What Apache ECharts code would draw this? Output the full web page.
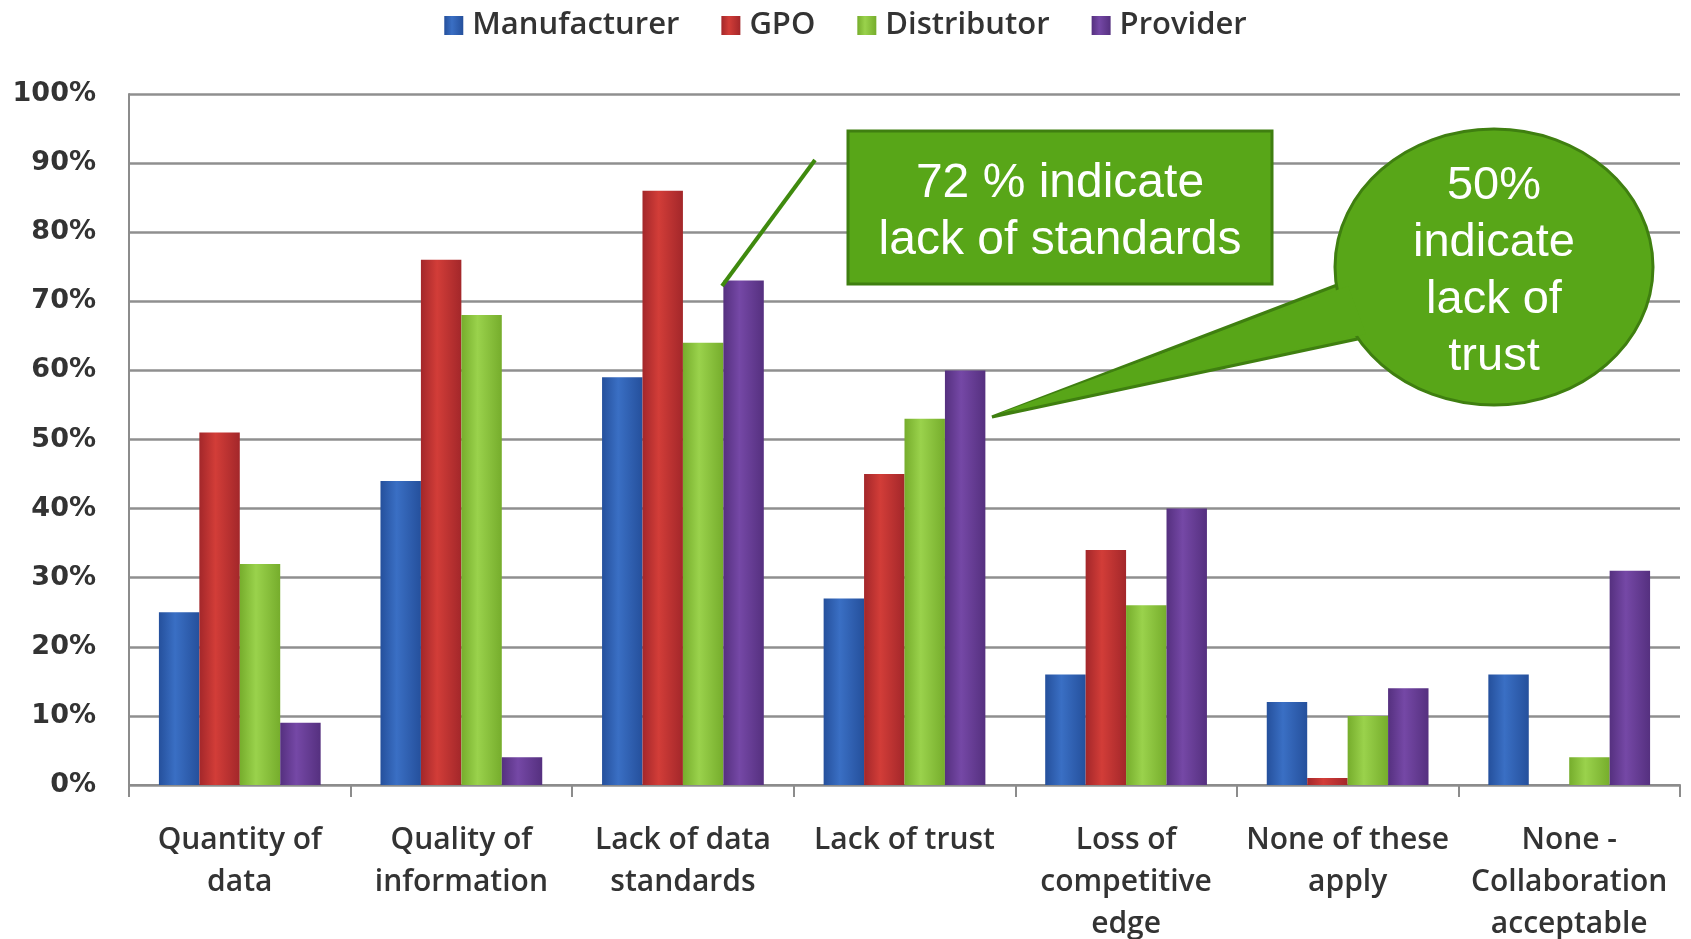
<!DOCTYPE html>
<html>
<head>
<meta charset="utf-8">
<script src="https://cdn.jsdelivr.net/npm/echarts@6/dist/echarts.min.js"></script>
<style>
html,body{margin:0;padding:0;background:#fff;}
#c{width:1691px;height:939px;}
</style>
</head>
<body>
<div id="c"></div>
<script>
const categories = ['Quantity of\ndata','Quality of\ninformation','Lack of data\nstandards','Lack of trust','Loss of\ncompetitive\nedge','None of these\napply','None -\nCollaboration\nacceptable'];
const manufacturer = [25, 44, 59, 27, 16, 12, 16];
const gpo          = [51, 76, 86, 45, 34, 1, 0];
const distributor  = [32, 68, 64, 53, 26, 10, 4];
const provider     = [9, 4, 73, 60, 40, 14, 31];
const yTicks = [0,10,20,30,40,50,60,70,80,90,100];

function grad(dark, light){
  return new echarts.graphic.LinearGradient(0,0,1,0,[
    {offset:0,color:dark},{offset:0.4,color:light},{offset:1,color:dark}
  ]);
}
const colors = [
  ['#25509c','#3a6fc4','#2f5fb0'],
  ['#a3272a','#d23d38','#c0312e'],
  ['#76ad2c','#9ad24c','#8dc63f'],
  ['#55307f','#7548a6','#6a3d9a']
];
const names = ['Manufacturer','GPO','Distributor','Provider'];
const dataSets = [manufacturer, gpo, distributor, provider];

const series = names.map((n,i)=>({
  name:n, type:'bar', data:dataSets[i],
  barGap:'0%', barCategoryGap:'27%',
  itemStyle:{color:grad(colors[i][0],colors[i][1]), borderWidth:0},
  emphasis:{disabled:true}
}));

const chart = echarts.init(document.getElementById('c'));
chart.setOption({
  animation:false,
  color: colors.map(c=>c[2]),
  legend:{
    top:5, left:'center', itemGap:42, itemWidth:19, itemHeight:19,
    icon:'rect',
    textStyle:{fontFamily:'Open Sans', fontSize:31, color:'#333', fontWeight:600, padding:[0,0,0,4]},
    data:names
  },
  grid:{left:129, right:11, top:94, bottom:154, outerBoundsMode:'none', containLabel:false},
  xAxis:{
    type:'category', data:categories,
    axisLine:{lineStyle:{color:'#8c8c8c', width:2}},
    axisTick:{show:true, length:12, lineStyle:{color:'#8c8c8c', width:2}},
    axisLabel:{margin:34, fontFamily:'Open Sans', fontSize:30, fontWeight:600, color:'#333', lineHeight:42, interval:0}
  },
  yAxis:{
    type:'value', min:yTicks[0], max:yTicks[yTicks.length-1], interval:10,
    axisLine:{show:true, lineStyle:{color:'#8c8c8c', width:2}},
    splitLine:{lineStyle:{color:'#8f8f8f', width:2.5}},
    axisLabel:{formatter:'{value}%', margin:33, fontFamily:'DejaVu Sans', fontWeight:'bold', fontSize:27, color:'#333'}
  },
  series:series,
  graphic:[
    {type:'line', z:100, shape:{x1:815,y1:160,x2:722,y2:286}, style:{stroke:'#3f8a0e', lineWidth:4}},
    {type:'rect', z:100, shape:{x:848,y:131,width:424,height:153}, style:{fill:'#58a618', stroke:'#3f7f10', lineWidth:3}},
    {type:'text', z:101, style:{x:1060,y:212,text:'72 % indicate\nlack of standards', fill:'#fff', font:'48px "Liberation Sans"', align:'center', verticalAlign:'middle', lineHeight:57}},
    {type:'polygon', z:100, shape:{points:[[1345,282],[992,417],[1362,338]]}, style:{fill:'#58a618', stroke:'#3f7f10', lineWidth:3}},
    {type:'ellipse', z:100, shape:{cx:1494,cy:267,rx:159,ry:138}, style:{fill:'#58a618', stroke:'#3f7f10', lineWidth:3}},
    {type:'polygon', z:100, shape:{points:[[1348,286],[1000,413],[1366,334]]}, style:{fill:'#58a618'}},
    {type:'text', z:101, style:{x:1494,y:272,text:'50%\nindicate\nlack of\ntrust', fill:'#fff', font:'47px "Liberation Sans"', align:'center', verticalAlign:'middle', lineHeight:57}}
  ]
});
</script>
</body>
</html>
